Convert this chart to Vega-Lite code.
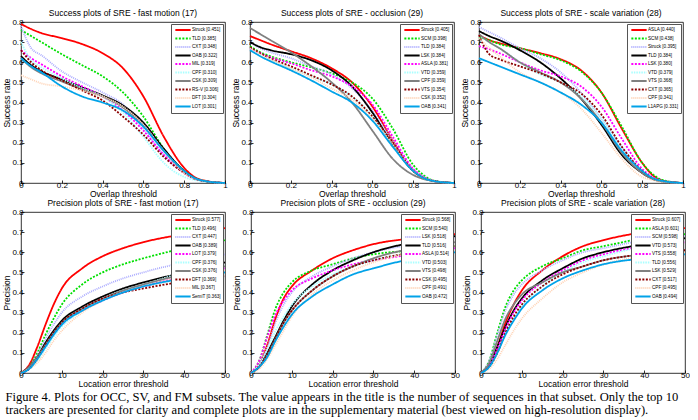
{
"$schema":"https://vega.github.io/schema/vega-lite/v6.json",
"padding":{"left":2,"top":8,"right":0,"bottom":0},
"background":"white",
"title":{"text":["Figure 4. Plots for OCC, SV, and FM subsets.  The value appears in the title is the number of sequences in that subset.  Only the top 10","trackers are presented for clarity and complete plots are in the supplementary material (best viewed on high-resolution display)."],"orient":"bottom","anchor":"start","font":"Liberation Serif","fontSize":12.6,"fontWeight":"normal","lineHeight":13,"offset":3,"dx":3,"color":"#000"},
"datasets":{
"s1":[
{"k":"Struck [0.451]","x":0,"y":0.79},{"k":"Struck [0.451]","x":0.05,"y":0.765},{"k":"Struck [0.451]","x":0.1,"y":0.745},{"k":"Struck [0.451]","x":0.2,"y":0.72},{"k":"Struck [0.451]","x":0.3,"y":0.69},{"k":"Struck [0.451]","x":0.4,"y":0.645},{"k":"Struck [0.451]","x":0.5,"y":0.57},{"k":"Struck [0.451]","x":0.6,"y":0.43},{"k":"Struck [0.451]","x":0.7,"y":0.23},{"k":"Struck [0.451]","x":0.8,"y":0.075},{"k":"Struck [0.451]","x":0.85,"y":0.03},{"k":"Struck [0.451]","x":0.9,"y":0.012},{"k":"Struck [0.451]","x":1,"y":0},
{"k":"TLD [0.385]","x":0,"y":0.76},{"k":"TLD [0.385]","x":0.05,"y":0.73},{"k":"TLD [0.385]","x":0.1,"y":0.70},{"k":"TLD [0.385]","x":0.2,"y":0.64},{"k":"TLD [0.385]","x":0.3,"y":0.585},{"k":"TLD [0.385]","x":0.4,"y":0.53},{"k":"TLD [0.385]","x":0.5,"y":0.45},{"k":"TLD [0.385]","x":0.6,"y":0.33},{"k":"TLD [0.385]","x":0.7,"y":0.17},{"k":"TLD [0.385]","x":0.8,"y":0.06},{"k":"TLD [0.385]","x":0.85,"y":0.025},{"k":"TLD [0.385]","x":0.9,"y":0.01},{"k":"TLD [0.385]","x":1,"y":0},
{"k":"CXT [0.348]","x":0,"y":0.78},{"k":"CXT [0.348]","x":0.05,"y":0.67},{"k":"CXT [0.348]","x":0.1,"y":0.635},{"k":"CXT [0.348]","x":0.2,"y":0.555},{"k":"CXT [0.348]","x":0.3,"y":0.5},{"k":"CXT [0.348]","x":0.4,"y":0.45},{"k":"CXT [0.348]","x":0.5,"y":0.39},{"k":"CXT [0.348]","x":0.6,"y":0.27},{"k":"CXT [0.348]","x":0.7,"y":0.14},{"k":"CXT [0.348]","x":0.8,"y":0.05},{"k":"CXT [0.348]","x":0.85,"y":0.02},{"k":"CXT [0.348]","x":0.9,"y":0.01},{"k":"CXT [0.348]","x":1,"y":0},
{"k":"OAB [0.322]","x":0,"y":0.63},{"k":"OAB [0.322]","x":0.05,"y":0.585},{"k":"OAB [0.322]","x":0.1,"y":0.555},{"k":"OAB [0.322]","x":0.2,"y":0.515},{"k":"OAB [0.322]","x":0.3,"y":0.475},{"k":"OAB [0.322]","x":0.4,"y":0.435},{"k":"OAB [0.322]","x":0.5,"y":0.385},{"k":"OAB [0.322]","x":0.6,"y":0.30},{"k":"OAB [0.322]","x":0.7,"y":0.17},{"k":"OAB [0.322]","x":0.8,"y":0.06},{"k":"OAB [0.322]","x":0.85,"y":0.025},{"k":"OAB [0.322]","x":0.9,"y":0.01},{"k":"OAB [0.322]","x":1,"y":0},
{"k":"MIL [0.319]","x":0,"y":0.66},{"k":"MIL [0.319]","x":0.05,"y":0.62},{"k":"MIL [0.319]","x":0.1,"y":0.59},{"k":"MIL [0.319]","x":0.2,"y":0.53},{"k":"MIL [0.319]","x":0.3,"y":0.48},{"k":"MIL [0.319]","x":0.4,"y":0.43},{"k":"MIL [0.319]","x":0.5,"y":0.36},{"k":"MIL [0.319]","x":0.6,"y":0.26},{"k":"MIL [0.319]","x":0.7,"y":0.14},{"k":"MIL [0.319]","x":0.8,"y":0.05},{"k":"MIL [0.319]","x":0.85,"y":0.022},{"k":"MIL [0.319]","x":0.9,"y":0.01},{"k":"MIL [0.319]","x":1,"y":0},
{"k":"CPF [0.310]","x":0,"y":0.70},{"k":"CPF [0.310]","x":0.05,"y":0.61},{"k":"CPF [0.310]","x":0.1,"y":0.575},{"k":"CPF [0.310]","x":0.2,"y":0.52},{"k":"CPF [0.310]","x":0.3,"y":0.47},{"k":"CPF [0.310]","x":0.4,"y":0.43},{"k":"CPF [0.310]","x":0.5,"y":0.35},{"k":"CPF [0.310]","x":0.6,"y":0.23},{"k":"CPF [0.310]","x":0.7,"y":0.10},{"k":"CPF [0.310]","x":0.8,"y":0.03},{"k":"CPF [0.310]","x":0.85,"y":0.015},{"k":"CPF [0.310]","x":0.9,"y":0.008},{"k":"CPF [0.310]","x":1,"y":0},
{"k":"CSK [0.309]","x":0,"y":0.62},{"k":"CSK [0.309]","x":0.05,"y":0.575},{"k":"CSK [0.309]","x":0.1,"y":0.545},{"k":"CSK [0.309]","x":0.2,"y":0.505},{"k":"CSK [0.309]","x":0.3,"y":0.465},{"k":"CSK [0.309]","x":0.4,"y":0.43},{"k":"CSK [0.309]","x":0.5,"y":0.375},{"k":"CSK [0.309]","x":0.6,"y":0.285},{"k":"CSK [0.309]","x":0.7,"y":0.16},{"k":"CSK [0.309]","x":0.8,"y":0.055},{"k":"CSK [0.309]","x":0.85,"y":0.025},{"k":"CSK [0.309]","x":0.9,"y":0.01},{"k":"CSK [0.309]","x":1,"y":0},
{"k":"RS-V [0.306]","x":0,"y":0.66},{"k":"RS-V [0.306]","x":0.05,"y":0.60},{"k":"RS-V [0.306]","x":0.1,"y":0.56},{"k":"RS-V [0.306]","x":0.2,"y":0.51},{"k":"RS-V [0.306]","x":0.3,"y":0.46},{"k":"RS-V [0.306]","x":0.4,"y":0.41},{"k":"RS-V [0.306]","x":0.5,"y":0.33},{"k":"RS-V [0.306]","x":0.6,"y":0.24},{"k":"RS-V [0.306]","x":0.7,"y":0.13},{"k":"RS-V [0.306]","x":0.8,"y":0.05},{"k":"RS-V [0.306]","x":0.85,"y":0.022},{"k":"RS-V [0.306]","x":0.9,"y":0.01},{"k":"RS-V [0.306]","x":1,"y":0},
{"k":"DFT [0.304]","x":0,"y":0.535},{"k":"DFT [0.304]","x":0.05,"y":0.515},{"k":"DFT [0.304]","x":0.1,"y":0.495},{"k":"DFT [0.304]","x":0.2,"y":0.48},{"k":"DFT [0.304]","x":0.3,"y":0.46},{"k":"DFT [0.304]","x":0.4,"y":0.43},{"k":"DFT [0.304]","x":0.5,"y":0.38},{"k":"DFT [0.304]","x":0.6,"y":0.29},{"k":"DFT [0.304]","x":0.7,"y":0.16},{"k":"DFT [0.304]","x":0.8,"y":0.05},{"k":"DFT [0.304]","x":0.85,"y":0.022},{"k":"DFT [0.304]","x":0.9,"y":0.01},{"k":"DFT [0.304]","x":1,"y":0},
{"k":"LOT [0.301]","x":0,"y":0.62},{"k":"LOT [0.301]","x":0.05,"y":0.58},{"k":"LOT [0.301]","x":0.1,"y":0.55},{"k":"LOT [0.301]","x":0.2,"y":0.48},{"k":"LOT [0.301]","x":0.3,"y":0.43},{"k":"LOT [0.301]","x":0.4,"y":0.40},{"k":"LOT [0.301]","x":0.5,"y":0.36},{"k":"LOT [0.301]","x":0.6,"y":0.28},{"k":"LOT [0.301]","x":0.7,"y":0.16},{"k":"LOT [0.301]","x":0.8,"y":0.06},{"k":"LOT [0.301]","x":0.85,"y":0.025},{"k":"LOT [0.301]","x":0.9,"y":0.01},{"k":"LOT [0.301]","x":1,"y":0}
],
"s2":[
{"k":"Struck [0.405]","x":0,"y":0.73},{"k":"Struck [0.405]","x":0.05,"y":0.71},{"k":"Struck [0.405]","x":0.1,"y":0.69},{"k":"Struck [0.405]","x":0.2,"y":0.655},{"k":"Struck [0.405]","x":0.3,"y":0.62},{"k":"Struck [0.405]","x":0.4,"y":0.57},{"k":"Struck [0.405]","x":0.5,"y":0.50},{"k":"Struck [0.405]","x":0.6,"y":0.38},{"k":"Struck [0.405]","x":0.7,"y":0.21},{"k":"Struck [0.405]","x":0.8,"y":0.06},{"k":"Struck [0.405]","x":0.85,"y":0.025},{"k":"Struck [0.405]","x":0.9,"y":0.01},{"k":"Struck [0.405]","x":1,"y":0},
{"k":"SCM [0.398]","x":0,"y":0.68},{"k":"SCM [0.398]","x":0.05,"y":0.65},{"k":"SCM [0.398]","x":0.1,"y":0.63},{"k":"SCM [0.398]","x":0.2,"y":0.60},{"k":"SCM [0.398]","x":0.3,"y":0.575},{"k":"SCM [0.398]","x":0.4,"y":0.545},{"k":"SCM [0.398]","x":0.5,"y":0.50},{"k":"SCM [0.398]","x":0.6,"y":0.42},{"k":"SCM [0.398]","x":0.7,"y":0.27},{"k":"SCM [0.398]","x":0.8,"y":0.09},{"k":"SCM [0.398]","x":0.85,"y":0.04},{"k":"SCM [0.398]","x":0.9,"y":0.012},{"k":"SCM [0.398]","x":1,"y":0},
{"k":"TLD [0.384]","x":0,"y":0.70},{"k":"TLD [0.384]","x":0.05,"y":0.67},{"k":"TLD [0.384]","x":0.1,"y":0.65},{"k":"TLD [0.384]","x":0.2,"y":0.62},{"k":"TLD [0.384]","x":0.3,"y":0.58},{"k":"TLD [0.384]","x":0.4,"y":0.54},{"k":"TLD [0.384]","x":0.5,"y":0.47},{"k":"TLD [0.384]","x":0.6,"y":0.36},{"k":"TLD [0.384]","x":0.7,"y":0.21},{"k":"TLD [0.384]","x":0.8,"y":0.07},{"k":"TLD [0.384]","x":0.85,"y":0.03},{"k":"TLD [0.384]","x":0.9,"y":0.01},{"k":"TLD [0.384]","x":1,"y":0},
{"k":"LSK [0.384]","x":0,"y":0.70},{"k":"LSK [0.384]","x":0.05,"y":0.675},{"k":"LSK [0.384]","x":0.1,"y":0.66},{"k":"LSK [0.384]","x":0.2,"y":0.64},{"k":"LSK [0.384]","x":0.3,"y":0.61},{"k":"LSK [0.384]","x":0.4,"y":0.56},{"k":"LSK [0.384]","x":0.5,"y":0.48},{"k":"LSK [0.384]","x":0.6,"y":0.35},{"k":"LSK [0.384]","x":0.7,"y":0.19},{"k":"LSK [0.384]","x":0.8,"y":0.06},{"k":"LSK [0.384]","x":0.85,"y":0.025},{"k":"LSK [0.384]","x":0.9,"y":0.01},{"k":"LSK [0.384]","x":1,"y":0},
{"k":"ASLA [0.381]","x":0,"y":0.67},{"k":"ASLA [0.381]","x":0.05,"y":0.645},{"k":"ASLA [0.381]","x":0.1,"y":0.625},{"k":"ASLA [0.381]","x":0.2,"y":0.595},{"k":"ASLA [0.381]","x":0.3,"y":0.56},{"k":"ASLA [0.381]","x":0.4,"y":0.53},{"k":"ASLA [0.381]","x":0.5,"y":0.48},{"k":"ASLA [0.381]","x":0.6,"y":0.39},{"k":"ASLA [0.381]","x":0.7,"y":0.23},{"k":"ASLA [0.381]","x":0.8,"y":0.07},{"k":"ASLA [0.381]","x":0.85,"y":0.03},{"k":"ASLA [0.381]","x":0.9,"y":0.01},{"k":"ASLA [0.381]","x":1,"y":0},
{"k":"VTD [0.359]","x":0,"y":0.67},{"k":"VTD [0.359]","x":0.05,"y":0.63},{"k":"VTD [0.359]","x":0.1,"y":0.61},{"k":"VTD [0.359]","x":0.2,"y":0.57},{"k":"VTD [0.359]","x":0.3,"y":0.53},{"k":"VTD [0.359]","x":0.4,"y":0.49},{"k":"VTD [0.359]","x":0.5,"y":0.43},{"k":"VTD [0.359]","x":0.6,"y":0.33},{"k":"VTD [0.359]","x":0.7,"y":0.19},{"k":"VTD [0.359]","x":0.8,"y":0.06},{"k":"VTD [0.359]","x":0.85,"y":0.025},{"k":"VTD [0.359]","x":0.9,"y":0.01},{"k":"VTD [0.359]","x":1,"y":0},
{"k":"CPF [0.359]","x":0,"y":0.77},{"k":"CPF [0.359]","x":0.05,"y":0.74},{"k":"CPF [0.359]","x":0.1,"y":0.71},{"k":"CPF [0.359]","x":0.2,"y":0.65},{"k":"CPF [0.359]","x":0.3,"y":0.58},{"k":"CPF [0.359]","x":0.4,"y":0.50},{"k":"CPF [0.359]","x":0.5,"y":0.40},{"k":"CPF [0.359]","x":0.6,"y":0.26},{"k":"CPF [0.359]","x":0.7,"y":0.12},{"k":"CPF [0.359]","x":0.8,"y":0.04},{"k":"CPF [0.359]","x":0.85,"y":0.02},{"k":"CPF [0.359]","x":0.9,"y":0.01},{"k":"CPF [0.359]","x":1,"y":0},
{"k":"VTS [0.354]","x":0,"y":0.675},{"k":"VTS [0.354]","x":0.05,"y":0.645},{"k":"VTS [0.354]","x":0.1,"y":0.62},{"k":"VTS [0.354]","x":0.2,"y":0.58},{"k":"VTS [0.354]","x":0.3,"y":0.535},{"k":"VTS [0.354]","x":0.4,"y":0.49},{"k":"VTS [0.354]","x":0.5,"y":0.43},{"k":"VTS [0.354]","x":0.6,"y":0.33},{"k":"VTS [0.354]","x":0.7,"y":0.20},{"k":"VTS [0.354]","x":0.8,"y":0.06},{"k":"VTS [0.354]","x":0.85,"y":0.025},{"k":"VTS [0.354]","x":0.9,"y":0.01},{"k":"VTS [0.354]","x":1,"y":0},
{"k":"CSK [0.352]","x":0,"y":0.67},{"k":"CSK [0.352]","x":0.05,"y":0.64},{"k":"CSK [0.352]","x":0.1,"y":0.615},{"k":"CSK [0.352]","x":0.2,"y":0.57},{"k":"CSK [0.352]","x":0.3,"y":0.525},{"k":"CSK [0.352]","x":0.4,"y":0.47},{"k":"CSK [0.352]","x":0.5,"y":0.415},{"k":"CSK [0.352]","x":0.6,"y":0.32},{"k":"CSK [0.352]","x":0.7,"y":0.19},{"k":"CSK [0.352]","x":0.8,"y":0.06},{"k":"CSK [0.352]","x":0.85,"y":0.025},{"k":"CSK [0.352]","x":0.9,"y":0.01},{"k":"CSK [0.352]","x":1,"y":0},
{"k":"OAB [0.341]","x":0,"y":0.66},{"k":"OAB [0.341]","x":0.05,"y":0.63},{"k":"OAB [0.341]","x":0.1,"y":0.605},{"k":"OAB [0.341]","x":0.2,"y":0.56},{"k":"OAB [0.341]","x":0.3,"y":0.51},{"k":"OAB [0.341]","x":0.4,"y":0.455},{"k":"OAB [0.341]","x":0.5,"y":0.40},{"k":"OAB [0.341]","x":0.6,"y":0.31},{"k":"OAB [0.341]","x":0.7,"y":0.18},{"k":"OAB [0.341]","x":0.8,"y":0.06},{"k":"OAB [0.341]","x":0.85,"y":0.025},{"k":"OAB [0.341]","x":0.9,"y":0.01},{"k":"OAB [0.341]","x":1,"y":0}
],
"s3":[
{"k":"ASLA [0.440]","x":0,"y":0.735},{"k":"ASLA [0.440]","x":0.05,"y":0.71},{"k":"ASLA [0.440]","x":0.1,"y":0.695},{"k":"ASLA [0.440]","x":0.2,"y":0.67},{"k":"ASLA [0.440]","x":0.3,"y":0.645},{"k":"ASLA [0.440]","x":0.4,"y":0.615},{"k":"ASLA [0.440]","x":0.5,"y":0.56},{"k":"ASLA [0.440]","x":0.6,"y":0.45},{"k":"ASLA [0.440]","x":0.7,"y":0.27},{"k":"ASLA [0.440]","x":0.8,"y":0.10},{"k":"ASLA [0.440]","x":0.85,"y":0.04},{"k":"ASLA [0.440]","x":0.9,"y":0.012},{"k":"ASLA [0.440]","x":1,"y":0},
{"k":"SCM [0.438]","x":0,"y":0.725},{"k":"SCM [0.438]","x":0.05,"y":0.71},{"k":"SCM [0.438]","x":0.1,"y":0.69},{"k":"SCM [0.438]","x":0.2,"y":0.67},{"k":"SCM [0.438]","x":0.3,"y":0.64},{"k":"SCM [0.438]","x":0.4,"y":0.61},{"k":"SCM [0.438]","x":0.5,"y":0.555},{"k":"SCM [0.438]","x":0.6,"y":0.45},{"k":"SCM [0.438]","x":0.7,"y":0.28},{"k":"SCM [0.438]","x":0.8,"y":0.10},{"k":"SCM [0.438]","x":0.85,"y":0.045},{"k":"SCM [0.438]","x":0.9,"y":0.015},{"k":"SCM [0.438]","x":1,"y":0},
{"k":"Struck [0.395]","x":0,"y":0.775},{"k":"Struck [0.395]","x":0.05,"y":0.75},{"k":"Struck [0.395]","x":0.1,"y":0.725},{"k":"Struck [0.395]","x":0.2,"y":0.67},{"k":"Struck [0.395]","x":0.3,"y":0.62},{"k":"Struck [0.395]","x":0.4,"y":0.55},{"k":"Struck [0.395]","x":0.5,"y":0.45},{"k":"Struck [0.395]","x":0.6,"y":0.32},{"k":"Struck [0.395]","x":0.7,"y":0.18},{"k":"Struck [0.395]","x":0.8,"y":0.06},{"k":"Struck [0.395]","x":0.85,"y":0.025},{"k":"Struck [0.395]","x":0.9,"y":0.01},{"k":"Struck [0.395]","x":1,"y":0},
{"k":"TLD [0.384]","x":0,"y":0.755},{"k":"TLD [0.384]","x":0.05,"y":0.73},{"k":"TLD [0.384]","x":0.1,"y":0.71},{"k":"TLD [0.384]","x":0.2,"y":0.66},{"k":"TLD [0.384]","x":0.3,"y":0.60},{"k":"TLD [0.384]","x":0.4,"y":0.52},{"k":"TLD [0.384]","x":0.5,"y":0.42},{"k":"TLD [0.384]","x":0.6,"y":0.29},{"k":"TLD [0.384]","x":0.7,"y":0.14},{"k":"TLD [0.384]","x":0.8,"y":0.05},{"k":"TLD [0.384]","x":0.85,"y":0.02},{"k":"TLD [0.384]","x":0.9,"y":0.008},{"k":"TLD [0.384]","x":1,"y":0},
{"k":"LSK [0.380]","x":0,"y":0.68},{"k":"LSK [0.380]","x":0.05,"y":0.665},{"k":"LSK [0.380]","x":0.1,"y":0.645},{"k":"LSK [0.380]","x":0.2,"y":0.60},{"k":"LSK [0.380]","x":0.3,"y":0.56},{"k":"LSK [0.380]","x":0.4,"y":0.53},{"k":"LSK [0.380]","x":0.5,"y":0.48},{"k":"LSK [0.380]","x":0.6,"y":0.38},{"k":"LSK [0.380]","x":0.7,"y":0.22},{"k":"LSK [0.380]","x":0.8,"y":0.07},{"k":"LSK [0.380]","x":0.85,"y":0.03},{"k":"LSK [0.380]","x":0.9,"y":0.01},{"k":"LSK [0.380]","x":1,"y":0},
{"k":"VTD [0.379]","x":0,"y":0.73},{"k":"VTD [0.379]","x":0.05,"y":0.70},{"k":"VTD [0.379]","x":0.1,"y":0.67},{"k":"VTD [0.379]","x":0.2,"y":0.60},{"k":"VTD [0.379]","x":0.3,"y":0.54},{"k":"VTD [0.379]","x":0.4,"y":0.50},{"k":"VTD [0.379]","x":0.5,"y":0.43},{"k":"VTD [0.379]","x":0.6,"y":0.32},{"k":"VTD [0.379]","x":0.7,"y":0.17},{"k":"VTD [0.379]","x":0.8,"y":0.06},{"k":"VTD [0.379]","x":0.85,"y":0.025},{"k":"VTD [0.379]","x":0.9,"y":0.01},{"k":"VTD [0.379]","x":1,"y":0},
{"k":"VTS [0.368]","x":0,"y":0.74},{"k":"VTS [0.368]","x":0.05,"y":0.70},{"k":"VTS [0.368]","x":0.1,"y":0.67},{"k":"VTS [0.368]","x":0.2,"y":0.60},{"k":"VTS [0.368]","x":0.3,"y":0.55},{"k":"VTS [0.368]","x":0.4,"y":0.50},{"k":"VTS [0.368]","x":0.5,"y":0.42},{"k":"VTS [0.368]","x":0.6,"y":0.30},{"k":"VTS [0.368]","x":0.7,"y":0.15},{"k":"VTS [0.368]","x":0.8,"y":0.05},{"k":"VTS [0.368]","x":0.85,"y":0.02},{"k":"VTS [0.368]","x":0.9,"y":0.008},{"k":"VTS [0.368]","x":1,"y":0},
{"k":"CXT [0.365]","x":0,"y":0.735},{"k":"CXT [0.365]","x":0.05,"y":0.64},{"k":"CXT [0.365]","x":0.1,"y":0.615},{"k":"CXT [0.365]","x":0.2,"y":0.58},{"k":"CXT [0.365]","x":0.3,"y":0.545},{"k":"CXT [0.365]","x":0.4,"y":0.50},{"k":"CXT [0.365]","x":0.5,"y":0.445},{"k":"CXT [0.365]","x":0.6,"y":0.34},{"k":"CXT [0.365]","x":0.7,"y":0.18},{"k":"CXT [0.365]","x":0.8,"y":0.06},{"k":"CXT [0.365]","x":0.85,"y":0.025},{"k":"CXT [0.365]","x":0.9,"y":0.01},{"k":"CXT [0.365]","x":1,"y":0},
{"k":"CPF [0.341]","x":0,"y":0.72},{"k":"CPF [0.341]","x":0.05,"y":0.67},{"k":"CPF [0.341]","x":0.1,"y":0.63},{"k":"CPF [0.341]","x":0.2,"y":0.55},{"k":"CPF [0.341]","x":0.3,"y":0.50},{"k":"CPF [0.341]","x":0.4,"y":0.45},{"k":"CPF [0.341]","x":0.5,"y":0.37},{"k":"CPF [0.341]","x":0.6,"y":0.25},{"k":"CPF [0.341]","x":0.7,"y":0.12},{"k":"CPF [0.341]","x":0.8,"y":0.03},{"k":"CPF [0.341]","x":0.85,"y":0.015},{"k":"CPF [0.341]","x":0.9,"y":0.006},{"k":"CPF [0.341]","x":1,"y":0},
{"k":"L1APG [0.331]","x":0,"y":0.62},{"k":"L1APG [0.331]","x":0.05,"y":0.60},{"k":"L1APG [0.331]","x":0.1,"y":0.58},{"k":"L1APG [0.331]","x":0.2,"y":0.54},{"k":"L1APG [0.331]","x":0.3,"y":0.50},{"k":"L1APG [0.331]","x":0.4,"y":0.45},{"k":"L1APG [0.331]","x":0.5,"y":0.39},{"k":"L1APG [0.331]","x":0.6,"y":0.30},{"k":"L1APG [0.331]","x":0.7,"y":0.16},{"k":"L1APG [0.331]","x":0.8,"y":0.06},{"k":"L1APG [0.331]","x":0.85,"y":0.025},{"k":"L1APG [0.331]","x":0.9,"y":0.01},{"k":"L1APG [0.331]","x":1,"y":0}
],
"p1":[
{"k":"Struck [0.577]","x":0,"y":0},{"k":"Struck [0.577]","x":2,"y":0.04},{"k":"Struck [0.577]","x":4,"y":0.13},{"k":"Struck [0.577]","x":6,"y":0.24},{"k":"Struck [0.577]","x":8,"y":0.34},{"k":"Struck [0.577]","x":10,"y":0.42},{"k":"Struck [0.577]","x":15,"y":0.52},{"k":"Struck [0.577]","x":20,"y":0.58},{"k":"Struck [0.577]","x":25,"y":0.62},{"k":"Struck [0.577]","x":30,"y":0.65},{"k":"Struck [0.577]","x":40,"y":0.69},{"k":"Struck [0.577]","x":50,"y":0.72},
{"k":"TLD [0.496]","x":0,"y":0},{"k":"TLD [0.496]","x":2,"y":0.03},{"k":"TLD [0.496]","x":4,"y":0.10},{"k":"TLD [0.496]","x":6,"y":0.19},{"k":"TLD [0.496]","x":8,"y":0.27},{"k":"TLD [0.496]","x":10,"y":0.34},{"k":"TLD [0.496]","x":15,"y":0.44},{"k":"TLD [0.496]","x":20,"y":0.50},{"k":"TLD [0.496]","x":25,"y":0.54},{"k":"TLD [0.496]","x":30,"y":0.57},{"k":"TLD [0.496]","x":40,"y":0.62},{"k":"TLD [0.496]","x":50,"y":0.66},
{"k":"CXT [0.447]","x":0,"y":0},{"k":"CXT [0.447]","x":2,"y":0.03},{"k":"CXT [0.447]","x":4,"y":0.09},{"k":"CXT [0.447]","x":6,"y":0.17},{"k":"CXT [0.447]","x":8,"y":0.24},{"k":"CXT [0.447]","x":10,"y":0.30},{"k":"CXT [0.447]","x":15,"y":0.38},{"k":"CXT [0.447]","x":20,"y":0.43},{"k":"CXT [0.447]","x":25,"y":0.47},{"k":"CXT [0.447]","x":30,"y":0.50},{"k":"CXT [0.447]","x":40,"y":0.55},{"k":"CXT [0.447]","x":50,"y":0.59},
{"k":"OAB [0.389]","x":0,"y":0},{"k":"OAB [0.389]","x":2,"y":0.03},{"k":"OAB [0.389]","x":4,"y":0.08},{"k":"OAB [0.389]","x":6,"y":0.15},{"k":"OAB [0.389]","x":8,"y":0.21},{"k":"OAB [0.389]","x":10,"y":0.26},{"k":"OAB [0.389]","x":15,"y":0.33},{"k":"OAB [0.389]","x":20,"y":0.38},{"k":"OAB [0.389]","x":25,"y":0.42},{"k":"OAB [0.389]","x":30,"y":0.45},{"k":"OAB [0.389]","x":40,"y":0.50},{"k":"OAB [0.389]","x":50,"y":0.55},
{"k":"LOT [0.379]","x":0,"y":0},{"k":"LOT [0.379]","x":2,"y":0.02},{"k":"LOT [0.379]","x":4,"y":0.07},{"k":"LOT [0.379]","x":6,"y":0.13},{"k":"LOT [0.379]","x":8,"y":0.19},{"k":"LOT [0.379]","x":10,"y":0.24},{"k":"LOT [0.379]","x":15,"y":0.31},{"k":"LOT [0.379]","x":20,"y":0.36},{"k":"LOT [0.379]","x":25,"y":0.40},{"k":"LOT [0.379]","x":30,"y":0.43},{"k":"LOT [0.379]","x":40,"y":0.48},{"k":"LOT [0.379]","x":50,"y":0.52},
{"k":"CPF [0.376]","x":0,"y":0},{"k":"CPF [0.376]","x":2,"y":0.02},{"k":"CPF [0.376]","x":4,"y":0.06},{"k":"CPF [0.376]","x":6,"y":0.12},{"k":"CPF [0.376]","x":8,"y":0.18},{"k":"CPF [0.376]","x":10,"y":0.23},{"k":"CPF [0.376]","x":15,"y":0.31},{"k":"CPF [0.376]","x":20,"y":0.37},{"k":"CPF [0.376]","x":25,"y":0.41},{"k":"CPF [0.376]","x":30,"y":0.44},{"k":"CPF [0.376]","x":40,"y":0.50},{"k":"CPF [0.376]","x":50,"y":0.54},
{"k":"CSK [0.376]","x":0,"y":0},{"k":"CSK [0.376]","x":2,"y":0.03},{"k":"CSK [0.376]","x":4,"y":0.08},{"k":"CSK [0.376]","x":6,"y":0.14},{"k":"CSK [0.376]","x":8,"y":0.20},{"k":"CSK [0.376]","x":10,"y":0.25},{"k":"CSK [0.376]","x":15,"y":0.32},{"k":"CSK [0.376]","x":20,"y":0.37},{"k":"CSK [0.376]","x":25,"y":0.41},{"k":"CSK [0.376]","x":30,"y":0.44},{"k":"CSK [0.376]","x":40,"y":0.49},{"k":"CSK [0.376]","x":50,"y":0.53},
{"k":"DFT [0.369]","x":0,"y":0},{"k":"DFT [0.369]","x":2,"y":0.02},{"k":"DFT [0.369]","x":4,"y":0.07},{"k":"DFT [0.369]","x":6,"y":0.14},{"k":"DFT [0.369]","x":8,"y":0.20},{"k":"DFT [0.369]","x":10,"y":0.25},{"k":"DFT [0.369]","x":15,"y":0.32},{"k":"DFT [0.369]","x":20,"y":0.37},{"k":"DFT [0.369]","x":25,"y":0.40},{"k":"DFT [0.369]","x":30,"y":0.42},{"k":"DFT [0.369]","x":40,"y":0.455},{"k":"DFT [0.369]","x":50,"y":0.48},
{"k":"MIL [0.367]","x":0,"y":0},{"k":"MIL [0.367]","x":2,"y":0.02},{"k":"MIL [0.367]","x":4,"y":0.05},{"k":"MIL [0.367]","x":6,"y":0.10},{"k":"MIL [0.367]","x":8,"y":0.16},{"k":"MIL [0.367]","x":10,"y":0.21},{"k":"MIL [0.367]","x":15,"y":0.30},{"k":"MIL [0.367]","x":20,"y":0.36},{"k":"MIL [0.367]","x":25,"y":0.40},{"k":"MIL [0.367]","x":30,"y":0.43},{"k":"MIL [0.367]","x":40,"y":0.48},{"k":"MIL [0.367]","x":50,"y":0.51},
{"k":"SemiT [0.363]","x":0,"y":0},{"k":"SemiT [0.363]","x":2,"y":0.02},{"k":"SemiT [0.363]","x":4,"y":0.07},{"k":"SemiT [0.363]","x":6,"y":0.13},{"k":"SemiT [0.363]","x":8,"y":0.19},{"k":"SemiT [0.363]","x":10,"y":0.24},{"k":"SemiT [0.363]","x":15,"y":0.31},{"k":"SemiT [0.363]","x":20,"y":0.36},{"k":"SemiT [0.363]","x":25,"y":0.40},{"k":"SemiT [0.363]","x":30,"y":0.43},{"k":"SemiT [0.363]","x":40,"y":0.47},{"k":"SemiT [0.363]","x":50,"y":0.50}
],
"p2":[
{"k":"Struck [0.568]","x":0,"y":0},{"k":"Struck [0.568]","x":2,"y":0.04},{"k":"Struck [0.568]","x":4,"y":0.14},{"k":"Struck [0.568]","x":6,"y":0.27},{"k":"Struck [0.568]","x":8,"y":0.37},{"k":"Struck [0.568]","x":10,"y":0.43},{"k":"Struck [0.568]","x":15,"y":0.51},{"k":"Struck [0.568]","x":20,"y":0.57},{"k":"Struck [0.568]","x":25,"y":0.61},{"k":"Struck [0.568]","x":30,"y":0.64},{"k":"Struck [0.568]","x":40,"y":0.67},{"k":"Struck [0.568]","x":50,"y":0.69},
{"k":"SCM [0.540]","x":0,"y":0},{"k":"SCM [0.540]","x":2,"y":0.06},{"k":"SCM [0.540]","x":4,"y":0.19},{"k":"SCM [0.540]","x":6,"y":0.32},{"k":"SCM [0.540]","x":8,"y":0.40},{"k":"SCM [0.540]","x":10,"y":0.45},{"k":"SCM [0.540]","x":15,"y":0.51},{"k":"SCM [0.540]","x":20,"y":0.54},{"k":"SCM [0.540]","x":25,"y":0.57},{"k":"SCM [0.540]","x":30,"y":0.59},{"k":"SCM [0.540]","x":40,"y":0.61},{"k":"SCM [0.540]","x":50,"y":0.63},
{"k":"LSK [0.518]","x":0,"y":0},{"k":"LSK [0.518]","x":2,"y":0.04},{"k":"LSK [0.518]","x":4,"y":0.13},{"k":"LSK [0.518]","x":6,"y":0.25},{"k":"LSK [0.518]","x":8,"y":0.34},{"k":"LSK [0.518]","x":10,"y":0.40},{"k":"LSK [0.518]","x":15,"y":0.48},{"k":"LSK [0.518]","x":20,"y":0.53},{"k":"LSK [0.518]","x":25,"y":0.57},{"k":"LSK [0.518]","x":30,"y":0.60},{"k":"LSK [0.518]","x":40,"y":0.64},{"k":"LSK [0.518]","x":50,"y":0.67},
{"k":"TLD [0.516]","x":0,"y":0},{"k":"TLD [0.516]","x":2,"y":0.03},{"k":"TLD [0.516]","x":4,"y":0.10},{"k":"TLD [0.516]","x":6,"y":0.18},{"k":"TLD [0.516]","x":8,"y":0.26},{"k":"TLD [0.516]","x":10,"y":0.33},{"k":"TLD [0.516]","x":15,"y":0.44},{"k":"TLD [0.516]","x":20,"y":0.51},{"k":"TLD [0.516]","x":25,"y":0.56},{"k":"TLD [0.516]","x":30,"y":0.60},{"k":"TLD [0.516]","x":40,"y":0.65},{"k":"TLD [0.516]","x":50,"y":0.68},
{"k":"ASLA [0.514]","x":0,"y":0},{"k":"ASLA [0.514]","x":2,"y":0.06},{"k":"ASLA [0.514]","x":4,"y":0.18},{"k":"ASLA [0.514]","x":6,"y":0.29},{"k":"ASLA [0.514]","x":8,"y":0.36},{"k":"ASLA [0.514]","x":10,"y":0.41},{"k":"ASLA [0.514]","x":15,"y":0.47},{"k":"ASLA [0.514]","x":20,"y":0.51},{"k":"ASLA [0.514]","x":25,"y":0.54},{"k":"ASLA [0.514]","x":30,"y":0.56},{"k":"ASLA [0.514]","x":40,"y":0.59},{"k":"ASLA [0.514]","x":50,"y":0.62},
{"k":"VTD [0.503]","x":0,"y":0},{"k":"VTD [0.503]","x":2,"y":0.04},{"k":"VTD [0.503]","x":4,"y":0.12},{"k":"VTD [0.503]","x":6,"y":0.21},{"k":"VTD [0.503]","x":8,"y":0.28},{"k":"VTD [0.503]","x":10,"y":0.34},{"k":"VTD [0.503]","x":15,"y":0.43},{"k":"VTD [0.503]","x":20,"y":0.49},{"k":"VTD [0.503]","x":25,"y":0.53},{"k":"VTD [0.503]","x":30,"y":0.56},{"k":"VTD [0.503]","x":40,"y":0.60},{"k":"VTD [0.503]","x":50,"y":0.63},
{"k":"VTS [0.498]","x":0,"y":0},{"k":"VTS [0.498]","x":2,"y":0.03},{"k":"VTS [0.498]","x":4,"y":0.09},{"k":"VTS [0.498]","x":6,"y":0.17},{"k":"VTS [0.498]","x":8,"y":0.25},{"k":"VTS [0.498]","x":10,"y":0.31},{"k":"VTS [0.498]","x":15,"y":0.41},{"k":"VTS [0.498]","x":20,"y":0.48},{"k":"VTS [0.498]","x":25,"y":0.53},{"k":"VTS [0.498]","x":30,"y":0.57},{"k":"VTS [0.498]","x":40,"y":0.62},{"k":"VTS [0.498]","x":50,"y":0.65},
{"k":"CSK [0.495]","x":0,"y":0},{"k":"CSK [0.495]","x":2,"y":0.03},{"k":"CSK [0.495]","x":4,"y":0.09},{"k":"CSK [0.495]","x":6,"y":0.17},{"k":"CSK [0.495]","x":8,"y":0.25},{"k":"CSK [0.495]","x":10,"y":0.31},{"k":"CSK [0.495]","x":15,"y":0.41},{"k":"CSK [0.495]","x":20,"y":0.48},{"k":"CSK [0.495]","x":25,"y":0.53},{"k":"CSK [0.495]","x":30,"y":0.56},{"k":"CSK [0.495]","x":40,"y":0.60},{"k":"CSK [0.495]","x":50,"y":0.63},
{"k":"CPF [0.491]","x":0,"y":0},{"k":"CPF [0.491]","x":2,"y":0.02},{"k":"CPF [0.491]","x":4,"y":0.07},{"k":"CPF [0.491]","x":6,"y":0.14},{"k":"CPF [0.491]","x":8,"y":0.21},{"k":"CPF [0.491]","x":10,"y":0.28},{"k":"CPF [0.491]","x":15,"y":0.39},{"k":"CPF [0.491]","x":20,"y":0.46},{"k":"CPF [0.491]","x":25,"y":0.51},{"k":"CPF [0.491]","x":30,"y":0.55},{"k":"CPF [0.491]","x":40,"y":0.60},{"k":"CPF [0.491]","x":50,"y":0.63},
{"k":"OAB [0.472]","x":0,"y":0},{"k":"OAB [0.472]","x":2,"y":0.03},{"k":"OAB [0.472]","x":4,"y":0.08},{"k":"OAB [0.472]","x":6,"y":0.16},{"k":"OAB [0.472]","x":8,"y":0.23},{"k":"OAB [0.472]","x":10,"y":0.29},{"k":"OAB [0.472]","x":15,"y":0.38},{"k":"OAB [0.472]","x":20,"y":0.44},{"k":"OAB [0.472]","x":25,"y":0.49},{"k":"OAB [0.472]","x":30,"y":0.52},{"k":"OAB [0.472]","x":40,"y":0.57},{"k":"OAB [0.472]","x":50,"y":0.60}
],
"p3":[
{"k":"Struck [0.607]","x":0,"y":0},{"k":"Struck [0.607]","x":2,"y":0.04},{"k":"Struck [0.607]","x":4,"y":0.13},{"k":"Struck [0.607]","x":6,"y":0.25},{"k":"Struck [0.607]","x":8,"y":0.34},{"k":"Struck [0.607]","x":10,"y":0.41},{"k":"Struck [0.607]","x":15,"y":0.51},{"k":"Struck [0.607]","x":20,"y":0.58},{"k":"Struck [0.607]","x":25,"y":0.63},{"k":"Struck [0.607]","x":30,"y":0.66},{"k":"Struck [0.607]","x":40,"y":0.70},{"k":"Struck [0.607]","x":50,"y":0.72},
{"k":"ASLA [0.601]","x":0,"y":0},{"k":"ASLA [0.601]","x":2,"y":0.06},{"k":"ASLA [0.601]","x":4,"y":0.20},{"k":"ASLA [0.601]","x":6,"y":0.33},{"k":"ASLA [0.601]","x":8,"y":0.41},{"k":"ASLA [0.601]","x":10,"y":0.46},{"k":"ASLA [0.601]","x":15,"y":0.53},{"k":"ASLA [0.601]","x":20,"y":0.57},{"k":"ASLA [0.601]","x":25,"y":0.61},{"k":"ASLA [0.601]","x":30,"y":0.63},{"k":"ASLA [0.601]","x":40,"y":0.67},{"k":"ASLA [0.601]","x":50,"y":0.69},
{"k":"SCM [0.598]","x":0,"y":0},{"k":"SCM [0.598]","x":2,"y":0.06},{"k":"SCM [0.598]","x":4,"y":0.19},{"k":"SCM [0.598]","x":6,"y":0.31},{"k":"SCM [0.598]","x":8,"y":0.39},{"k":"SCM [0.598]","x":10,"y":0.44},{"k":"SCM [0.598]","x":15,"y":0.51},{"k":"SCM [0.598]","x":20,"y":0.56},{"k":"SCM [0.598]","x":25,"y":0.60},{"k":"SCM [0.598]","x":30,"y":0.62},{"k":"SCM [0.598]","x":40,"y":0.66},{"k":"SCM [0.598]","x":50,"y":0.68},
{"k":"VTD [0.573]","x":0,"y":0},{"k":"VTD [0.573]","x":2,"y":0.04},{"k":"VTD [0.573]","x":4,"y":0.13},{"k":"VTD [0.573]","x":6,"y":0.23},{"k":"VTD [0.573]","x":8,"y":0.31},{"k":"VTD [0.573]","x":10,"y":0.37},{"k":"VTD [0.573]","x":15,"y":0.46},{"k":"VTD [0.573]","x":20,"y":0.52},{"k":"VTD [0.573]","x":25,"y":0.57},{"k":"VTD [0.573]","x":30,"y":0.60},{"k":"VTD [0.573]","x":40,"y":0.64},{"k":"VTD [0.573]","x":50,"y":0.67},
{"k":"VTS [0.558]","x":0,"y":0},{"k":"VTS [0.558]","x":2,"y":0.04},{"k":"VTS [0.558]","x":4,"y":0.12},{"k":"VTS [0.558]","x":6,"y":0.22},{"k":"VTS [0.558]","x":8,"y":0.30},{"k":"VTS [0.558]","x":10,"y":0.36},{"k":"VTS [0.558]","x":15,"y":0.45},{"k":"VTS [0.558]","x":20,"y":0.51},{"k":"VTS [0.558]","x":25,"y":0.56},{"k":"VTS [0.558]","x":30,"y":0.59},{"k":"VTS [0.558]","x":40,"y":0.63},{"k":"VTS [0.558]","x":50,"y":0.65},
{"k":"TLD [0.556]","x":0,"y":0},{"k":"TLD [0.556]","x":2,"y":0.03},{"k":"TLD [0.556]","x":4,"y":0.10},{"k":"TLD [0.556]","x":6,"y":0.19},{"k":"TLD [0.556]","x":8,"y":0.27},{"k":"TLD [0.556]","x":10,"y":0.33},{"k":"TLD [0.556]","x":15,"y":0.43},{"k":"TLD [0.556]","x":20,"y":0.50},{"k":"TLD [0.556]","x":25,"y":0.55},{"k":"TLD [0.556]","x":30,"y":0.58},{"k":"TLD [0.556]","x":40,"y":0.63},{"k":"TLD [0.556]","x":50,"y":0.66},
{"k":"LSK [0.529]","x":0,"y":0},{"k":"LSK [0.529]","x":2,"y":0.05},{"k":"LSK [0.529]","x":4,"y":0.16},{"k":"LSK [0.529]","x":6,"y":0.27},{"k":"LSK [0.529]","x":8,"y":0.34},{"k":"LSK [0.529]","x":10,"y":0.39},{"k":"LSK [0.529]","x":15,"y":0.45},{"k":"LSK [0.529]","x":20,"y":0.50},{"k":"LSK [0.529]","x":25,"y":0.53},{"k":"LSK [0.529]","x":30,"y":0.56},{"k":"LSK [0.529]","x":40,"y":0.59},{"k":"LSK [0.529]","x":50,"y":0.61},
{"k":"CXT [0.517]","x":0,"y":0},{"k":"CXT [0.517]","x":2,"y":0.03},{"k":"CXT [0.517]","x":4,"y":0.10},{"k":"CXT [0.517]","x":6,"y":0.20},{"k":"CXT [0.517]","x":8,"y":0.28},{"k":"CXT [0.517]","x":10,"y":0.34},{"k":"CXT [0.517]","x":15,"y":0.43},{"k":"CXT [0.517]","x":20,"y":0.49},{"k":"CXT [0.517]","x":25,"y":0.53},{"k":"CXT [0.517]","x":30,"y":0.56},{"k":"CXT [0.517]","x":40,"y":0.59},{"k":"CXT [0.517]","x":50,"y":0.61},
{"k":"CPF [0.495]","x":0,"y":0},{"k":"CPF [0.495]","x":2,"y":0.02},{"k":"CPF [0.495]","x":4,"y":0.07},{"k":"CPF [0.495]","x":6,"y":0.14},{"k":"CPF [0.495]","x":8,"y":0.21},{"k":"CPF [0.495]","x":10,"y":0.27},{"k":"CPF [0.495]","x":15,"y":0.37},{"k":"CPF [0.495]","x":20,"y":0.45},{"k":"CPF [0.495]","x":25,"y":0.50},{"k":"CPF [0.495]","x":30,"y":0.54},{"k":"CPF [0.495]","x":40,"y":0.58},{"k":"CPF [0.495]","x":50,"y":0.60},
{"k":"OAB [0.494]","x":0,"y":0},{"k":"OAB [0.494]","x":2,"y":0.03},{"k":"OAB [0.494]","x":4,"y":0.10},{"k":"OAB [0.494]","x":6,"y":0.19},{"k":"OAB [0.494]","x":8,"y":0.26},{"k":"OAB [0.494]","x":10,"y":0.32},{"k":"OAB [0.494]","x":15,"y":0.41},{"k":"OAB [0.494]","x":20,"y":0.47},{"k":"OAB [0.494]","x":25,"y":0.51},{"k":"OAB [0.494]","x":30,"y":0.54},{"k":"OAB [0.494]","x":40,"y":0.57},{"k":"OAB [0.494]","x":50,"y":0.59}
]
},
"spacing":0,
"resolve":{"scale":{"x":"independent","y":"independent","color":"independent","strokeDash":"independent"},"legend":{"color":"independent","strokeDash":"independent"}},
"vconcat":[
{"hconcat":[
{"width":204,"height":161,"title":"Success plots of SRE - fast motion (17)","data":{"name":"s1"},"mark":{"type":"line","interpolate":"monotone","strokeWidth":1.8},
"encoding":{"x":{"field":"x","type":"quantitative","scale":{"domain":[0,1]},"axis":{"values":[0,0.2,0.4,0.6,0.8,1],"format":"~g","title":"Overlap threshold"}},
"y":{"field":"y","type":"quantitative","scale":{"domain":[0,0.8]},"axis":{"values":[0,0.1,0.2,0.3,0.4,0.5,0.6,0.7,0.8],"format":"~g","title":"Success rate"}},
"color":{"field":"k","type":"nominal","scale":{"domain":["Struck [0.451]","TLD [0.385]","CXT [0.348]","OAB [0.322]","MIL [0.319]","CPF [0.310]","CSK [0.309]","RS-V [0.306]","DFT [0.304]","LOT [0.301]"],"range":["#ff0000","#00e000","#aaaaff","#000000","#ff00ff","#aaffff","#808080","#8b0000","#ffd2b4","#00a2e8"]},"legend":{"title":null}},
"strokeDash":{"field":"k","type":"nominal","scale":{"domain":["Struck [0.451]","TLD [0.385]","CXT [0.348]","OAB [0.322]","MIL [0.319]","CPF [0.310]","CSK [0.309]","RS-V [0.306]","DFT [0.304]","LOT [0.301]"],"range":[[1,0],[2,1.5],[1,1],[1,0],[2,1.5],[1.5,1],[1,0],[2,1.5],[1,1],[1,0]]},"legend":{"title":null}}}},
{"width":204,"height":161,"title":"Success plots of SRE - occlusion (29)","data":{"name":"s2"},"mark":{"type":"line","interpolate":"monotone","strokeWidth":1.8},
"encoding":{"x":{"field":"x","type":"quantitative","scale":{"domain":[0,1]},"axis":{"values":[0,0.2,0.4,0.6,0.8,1],"format":"~g","title":"Overlap threshold"}},
"y":{"field":"y","type":"quantitative","scale":{"domain":[0,0.8]},"axis":{"values":[0,0.1,0.2,0.3,0.4,0.5,0.6,0.7,0.8],"format":"~g","title":"Success rate"}},
"color":{"field":"k","type":"nominal","scale":{"domain":["Struck [0.405]","SCM [0.398]","TLD [0.384]","LSK [0.384]","ASLA [0.381]","VTD [0.359]","CPF [0.359]","VTS [0.354]","CSK [0.352]","OAB [0.341]"],"range":["#ff0000","#00e000","#aaaaff","#000000","#ff00ff","#aaffff","#808080","#8b0000","#ffd2b4","#00a2e8"]},"legend":{"title":null}},
"strokeDash":{"field":"k","type":"nominal","scale":{"domain":["Struck [0.405]","SCM [0.398]","TLD [0.384]","LSK [0.384]","ASLA [0.381]","VTD [0.359]","CPF [0.359]","VTS [0.354]","CSK [0.352]","OAB [0.341]"],"range":[[1,0],[2,1.5],[1,1],[1,0],[2,1.5],[1.5,1],[1,0],[2,1.5],[1,1],[1,0]]},"legend":{"title":null}}}},
{"width":204,"height":161,"title":"Success plots of SRE - scale variation (28)","data":{"name":"s3"},"mark":{"type":"line","interpolate":"monotone","strokeWidth":1.8},
"encoding":{"x":{"field":"x","type":"quantitative","scale":{"domain":[0,1]},"axis":{"values":[0,0.2,0.4,0.6,0.8,1],"format":"~g","title":"Overlap threshold"}},
"y":{"field":"y","type":"quantitative","scale":{"domain":[0,0.8]},"axis":{"values":[0,0.1,0.2,0.3,0.4,0.5,0.6,0.7,0.8],"format":"~g","title":"Success rate"}},
"color":{"field":"k","type":"nominal","scale":{"domain":["ASLA [0.440]","SCM [0.438]","Struck [0.395]","TLD [0.384]","LSK [0.380]","VTD [0.379]","VTS [0.368]","CXT [0.365]","CPF [0.341]","L1APG [0.331]"],"range":["#ff0000","#00e000","#aaaaff","#000000","#ff00ff","#aaffff","#808080","#8b0000","#ffd2b4","#00a2e8"]},"legend":{"title":null}},
"strokeDash":{"field":"k","type":"nominal","scale":{"domain":["ASLA [0.440]","SCM [0.438]","Struck [0.395]","TLD [0.384]","LSK [0.380]","VTD [0.379]","VTS [0.368]","CXT [0.365]","CPF [0.341]","L1APG [0.331]"],"range":[[1,0],[2,1.5],[1,1],[1,0],[2,1.5],[1.5,1],[1,0],[2,1.5],[1,1],[1,0]]},"legend":{"title":null}}}}
],"spacing":2,"resolve":{"scale":{"x":"independent","y":"independent","color":"independent","strokeDash":"independent"},"legend":{"color":"independent","strokeDash":"independent"}}},
{"hconcat":[
{"width":204,"height":161,"title":"Precision plots of SRE - fast motion (17)","data":{"name":"p1"},"mark":{"type":"line","interpolate":"monotone","strokeWidth":1.8},
"encoding":{"x":{"field":"x","type":"quantitative","scale":{"domain":[0,50]},"axis":{"values":[0,10,20,30,40,50],"title":"Location error threshold"}},
"y":{"field":"y","type":"quantitative","scale":{"domain":[0,0.8]},"axis":{"values":[0,0.1,0.2,0.3,0.4,0.5,0.6,0.7,0.8],"format":"~g","title":"Precision"}},
"color":{"field":"k","type":"nominal","scale":{"domain":["Struck [0.577]","TLD [0.496]","CXT [0.447]","OAB [0.389]","LOT [0.379]","CPF [0.376]","CSK [0.376]","DFT [0.369]","MIL [0.367]","SemiT [0.363]"],"range":["#ff0000","#00e000","#aaaaff","#000000","#ff00ff","#aaffff","#808080","#8b0000","#ffd2b4","#00a2e8"]},"legend":{"title":null}},
"strokeDash":{"field":"k","type":"nominal","scale":{"domain":["Struck [0.577]","TLD [0.496]","CXT [0.447]","OAB [0.389]","LOT [0.379]","CPF [0.376]","CSK [0.376]","DFT [0.369]","MIL [0.367]","SemiT [0.363]"],"range":[[1,0],[2,1.5],[1,1],[1,0],[2,1.5],[1.5,1],[1,0],[2,1.5],[1,1],[1,0]]},"legend":{"title":null}}}},
{"width":204,"height":161,"title":"Precision plots of SRE - occlusion (29)","data":{"name":"p2"},"mark":{"type":"line","interpolate":"monotone","strokeWidth":1.8},
"encoding":{"x":{"field":"x","type":"quantitative","scale":{"domain":[0,50]},"axis":{"values":[0,10,20,30,40,50],"title":"Location error threshold"}},
"y":{"field":"y","type":"quantitative","scale":{"domain":[0,0.8]},"axis":{"values":[0,0.1,0.2,0.3,0.4,0.5,0.6,0.7,0.8],"format":"~g","title":"Precision"}},
"color":{"field":"k","type":"nominal","scale":{"domain":["Struck [0.568]","SCM [0.540]","LSK [0.518]","TLD [0.516]","ASLA [0.514]","VTD [0.503]","VTS [0.498]","CSK [0.495]","CPF [0.491]","OAB [0.472]"],"range":["#ff0000","#00e000","#aaaaff","#000000","#ff00ff","#aaffff","#808080","#8b0000","#ffd2b4","#00a2e8"]},"legend":{"title":null}},
"strokeDash":{"field":"k","type":"nominal","scale":{"domain":["Struck [0.568]","SCM [0.540]","LSK [0.518]","TLD [0.516]","ASLA [0.514]","VTD [0.503]","VTS [0.498]","CSK [0.495]","CPF [0.491]","OAB [0.472]"],"range":[[1,0],[2,1.5],[1,1],[1,0],[2,1.5],[1.5,1],[1,0],[2,1.5],[1,1],[1,0]]},"legend":{"title":null}}}},
{"width":204,"height":161,"title":"Precision plots of SRE - scale variation (28)","data":{"name":"p3"},"mark":{"type":"line","interpolate":"monotone","strokeWidth":1.8},
"encoding":{"x":{"field":"x","type":"quantitative","scale":{"domain":[0,50]},"axis":{"values":[0,10,20,30,40,50],"title":"Location error threshold"}},
"y":{"field":"y","type":"quantitative","scale":{"domain":[0,0.8]},"axis":{"values":[0,0.1,0.2,0.3,0.4,0.5,0.6,0.7,0.8],"format":"~g","title":"Precision"}},
"color":{"field":"k","type":"nominal","scale":{"domain":["Struck [0.607]","ASLA [0.601]","SCM [0.598]","VTD [0.573]","VTS [0.558]","TLD [0.556]","LSK [0.529]","CXT [0.517]","CPF [0.495]","OAB [0.494]"],"range":["#ff0000","#00e000","#aaaaff","#000000","#ff00ff","#aaffff","#808080","#8b0000","#ffd2b4","#00a2e8"]},"legend":{"title":null}},
"strokeDash":{"field":"k","type":"nominal","scale":{"domain":["Struck [0.607]","ASLA [0.601]","SCM [0.598]","VTD [0.573]","VTS [0.558]","TLD [0.556]","LSK [0.529]","CXT [0.517]","CPF [0.495]","OAB [0.494]"],"range":[[1,0],[2,1.5],[1,1],[1,0],[2,1.5],[1.5,1],[1,0],[2,1.5],[1,1],[1,0]]},"legend":{"title":null}}}}
],"spacing":2,"resolve":{"scale":{"x":"independent","y":"independent","color":"independent","strokeDash":"independent"},"legend":{"color":"independent","strokeDash":"independent"}}}
],
"config":{
"font":"Liberation Sans",
"view":{"stroke":"#000","strokeWidth":0.8},
"title":{"fontSize":8.5,"fontWeight":"normal","offset":1,"color":"#000"},
"axis":{"domain":false,"grid":false,"tickSize":-3,"tickColor":"#000","tickWidth":0.8,"labelFontSize":8,"titleFontSize":8.5,"titleFontWeight":"normal","labelColor":"#000","titleColor":"#000","labelPadding":1,"titlePadding":0,"labelFlush":false,"labelOverlap":false},
"legend":{"orient":"top-right","offset":2,"padding":2,"strokeColor":"#555","fillColor":"white","symbolType":"M-3,0H3","symbolSize":26,"symbolOffset":6,"symbolStrokeWidth":2,"labelFontSize":4.6,"labelAlign":"left","labelOffset":5,"rowPadding":0.5,"labelColor":"#000"}
}
}
